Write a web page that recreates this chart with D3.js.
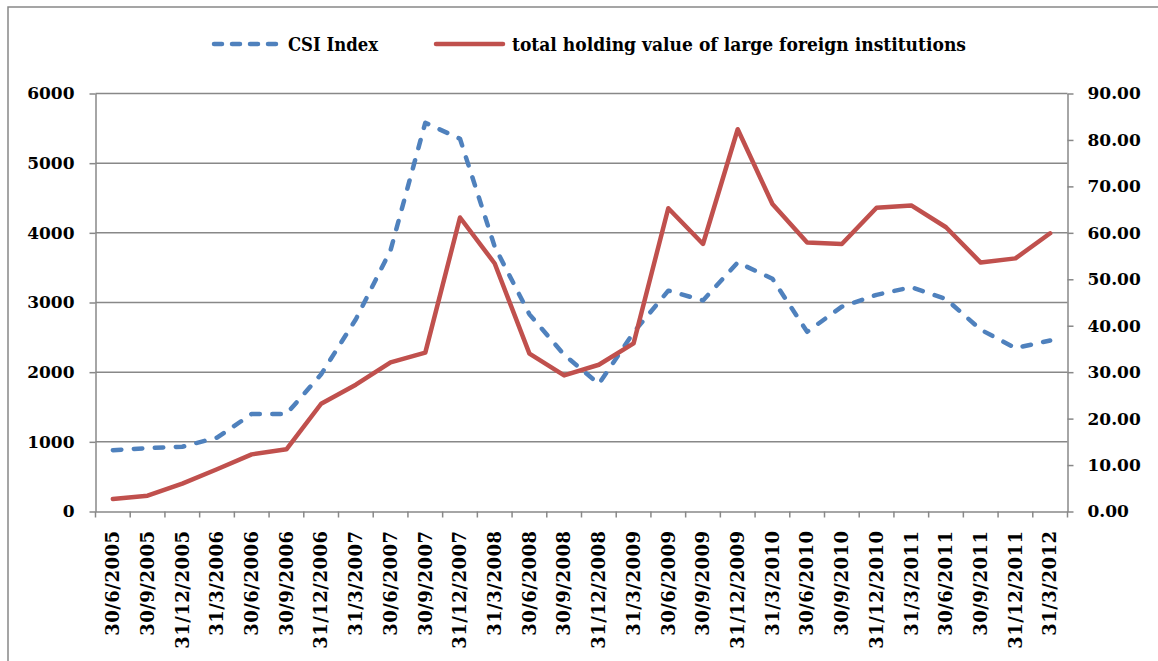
<!DOCTYPE html>
<html>
<head>
<meta charset="utf-8">
<script src="https://cdn.jsdelivr.net/npm/d3@7"></script>
<style>
  body { margin: 0; background: #fff; }
  svg text { font-family: "DejaVu Serif", serif; font-weight: bold; fill: #000; }
</style>
</head>
<body>
<div id="chart"></div>
<script>
// quarter-end dates
var dates = ["30/6/2005","30/9/2005","31/12/2005","31/3/2006","30/6/2006","30/9/2006",
  "31/12/2006","31/3/2007","30/6/2007","30/9/2007","31/12/2007","31/3/2008","30/6/2008",
  "30/9/2008","31/12/2008","31/3/2009","30/6/2009","30/9/2009","31/12/2009","31/3/2010",
  "30/6/2010","30/9/2010","31/12/2010","31/3/2011","30/6/2011","30/9/2011","31/12/2011","31/3/2012"];

// CSI Index (left axis)
var csi = [880, 910, 930, 1060, 1400, 1400, 1970, 2760, 3750, 5580, 5350, 3800, 2830, 2250,
  1830, 2570, 3170, 3030, 3575, 3340, 2580, 2940, 3110, 3220, 3050, 2610, 2345, 2455];

// total holding value of large foreign institutions (right axis)
var holding = [2.7, 3.4, 6.0, 9.1, 12.3, 13.4, 23.2, 27.3, 32.1, 34.2, 63.3, 53.4, 34.0, 29.3,
  31.6, 36.2, 65.3, 57.6, 82.3, 66.2, 57.9, 57.6, 65.4, 65.9, 61.2, 53.6, 54.5, 59.9];

var leftTicks = [0, 1000, 2000, 3000, 4000, 5000, 6000];
var rightTicks = [0, 10, 20, 30, 40, 50, 60, 70, 80, 90];

var seriesNames = ["CSI Index", "total holding value of large foreign institutions"];

var W = 1158, H = 661;
var blue = "#4f81bd", red = "#c0504d", grey = "#888888";

var svg = d3.select("#chart").append("svg")
  .attr("width", W).attr("height", H);

// outer frame
svg.append("rect")
  .attr("x", 8).attr("y", 7).attr("width", 1300).attr("height", 800)
  .attr("fill", "none").attr("stroke", grey).attr("stroke-width", 1.5);

var x = d3.scaleBand().domain(dates).range([95.5, 1067.5]);
var yL = d3.scaleLinear().domain([0, 6000]).range([511.5, 93.5]);
var yR = d3.scaleLinear().domain([0, 90]).range([511.5, 93.5]);

// gridlines
svg.append("g").selectAll("line")
  .data(leftTicks.slice(1))
  .enter().append("line")
  .attr("x1", 95.5).attr("x2", 1067.5)
  .attr("y1", function(d) { return yL(d); })
  .attr("y2", function(d) { return yL(d); })
  .attr("stroke", grey).attr("stroke-width", 1.5);

var cx = function(d, i) { return x(dates[i]) + x.bandwidth() / 2; };

var lineL = d3.line().x(cx).y(function(d) { return yL(d); });
var lineR = d3.line().x(cx).y(function(d) { return yR(d); });

svg.append("path")
  .datum(csi)
  .attr("d", lineL)
  .attr("fill", "none")
  .attr("stroke", blue)
  .attr("stroke-width", 4.5)
  .attr("stroke-linecap", "round")
  .attr("stroke-linejoin", "round")
  .attr("stroke-dasharray", "8.5,12.5");

svg.append("path")
  .datum(holding)
  .attr("d", lineR)
  .attr("fill", "none")
  .attr("stroke", red)
  .attr("stroke-width", 4.5)
  .attr("stroke-linecap", "round")
  .attr("stroke-linejoin", "round");

function styleAxis(g) {
  g.selectAll("path, line").attr("stroke", grey).attr("stroke-width", 1.5);
  g.selectAll("text").attr("font-size", 17).attr("fill", "#000");
}

// left axis
svg.append("g")
  .attr("transform", "translate(95.5,0)")
  .call(d3.axisLeft(yL).tickValues(leftTicks).tickSize(6).tickSizeOuter(0)
    .tickPadding(15).tickFormat(d3.format("d")))
  .call(styleAxis);

// right axis
svg.append("g")
  .attr("transform", "translate(1067.5,0)")
  .call(d3.axisRight(yR).tickValues(rightTicks).tickSize(6).tickSizeOuter(0)
    .tickPadding(14).tickFormat(d3.format(".2f")))
  .call(styleAxis);

// bottom axis: labels at band centres, ticks at band edges
var xg = svg.append("g").attr("transform", "translate(0,511.5)");
xg.call(d3.axisBottom(x).tickSize(0).tickSizeOuter(0).tickPadding(0));
xg.select(".domain").attr("stroke", grey).attr("stroke-width", 1.5);
xg.selectAll(".tick text")
  .attr("font-size", 18)
  .attr("letter-spacing", "0.5px")
  .attr("text-anchor", "end")
  .attr("transform", "translate(0,19) rotate(-90)")
  .attr("x", 0).attr("y", 0).attr("dy", "0.35em");

var edges = dates.map(function(d) { return x(d); }).concat([x.range()[1]]);
xg.selectAll(".edge").data(edges).enter().append("line")
  .attr("class", "edge")
  .attr("x1", function(d) { return d; }).attr("x2", function(d) { return d; })
  .attr("y1", 0).attr("y2", 6)
  .attr("stroke", grey).attr("stroke-width", 1.5);

// legend
var lg = svg.append("g").attr("transform", "translate(0,44)");
lg.append("line").attr("x1", 214).attr("x2", 278).attr("y1", 0).attr("y2", 0)
  .attr("stroke", blue).attr("stroke-width", 4.5)
  .attr("stroke-linecap", "round").attr("stroke-dasharray", "8,10");
lg.append("text").attr("x", 288).attr("y", 0).attr("dy", "0.35em")
  .attr("font-size", 19).attr("font-family", "Liberation Serif, serif")
  .attr("textLength", 90).attr("lengthAdjust", "spacingAndGlyphs")
  .text(seriesNames[0]);
lg.append("line").attr("x1", 436).attr("x2", 503).attr("y1", 0).attr("y2", 0)
  .attr("stroke", red).attr("stroke-width", 4.5).attr("stroke-linecap", "round");
lg.append("text").attr("x", 512).attr("y", 0).attr("dy", "0.35em")
  .attr("font-size", 19).attr("font-family", "Liberation Serif, serif")
  .attr("textLength", 454).attr("lengthAdjust", "spacingAndGlyphs")
  .text(seriesNames[1]);
</script>
</body>
</html>
